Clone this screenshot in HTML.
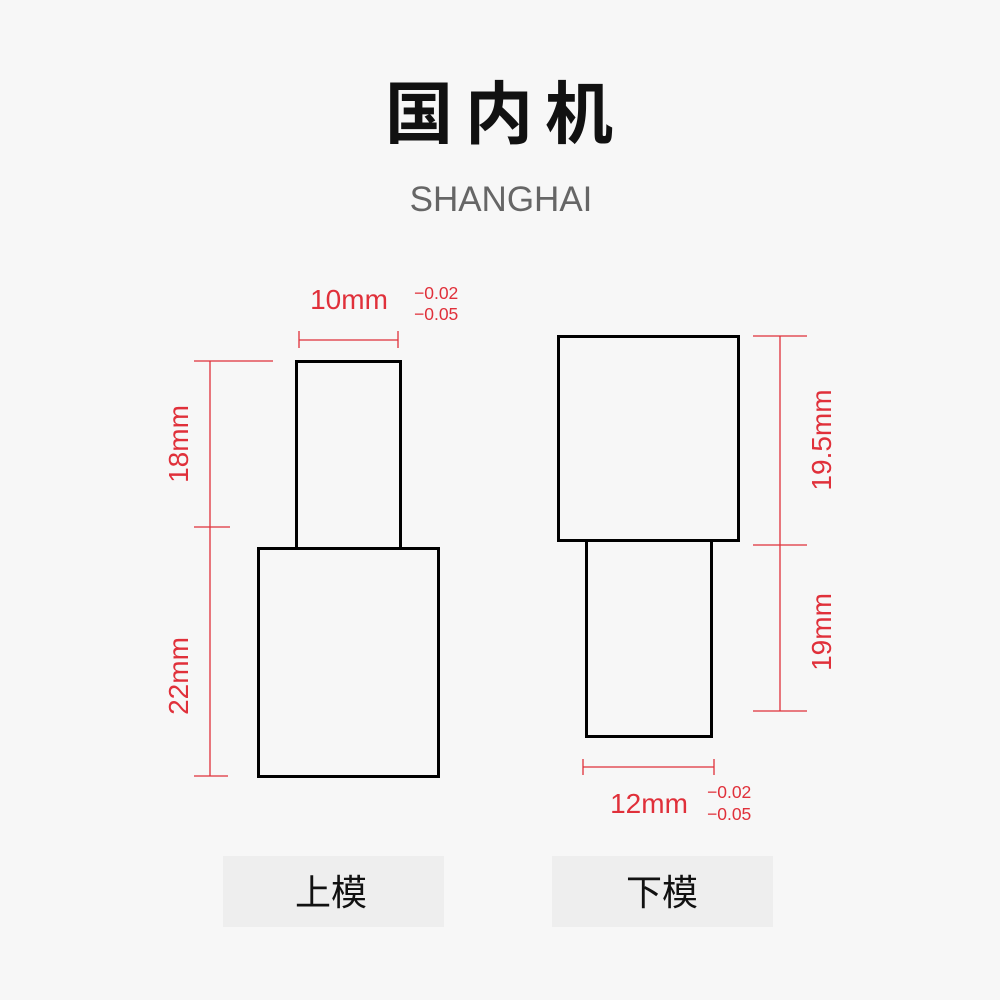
<!DOCTYPE html>
<html><head><meta charset="utf-8"><style>
html,body{margin:0;padding:0;background:#f7f7f7;}
svg{display:block}
</style></head><body>
<svg width="1000" height="1000" viewBox="0 0 1000 1000" xmlns="http://www.w3.org/2000/svg">
<rect width="1000" height="1000" fill="#f7f7f7"/>
<text x="505" y="138" text-anchor="middle" font-family="'Liberation Sans','Noto Sans CJK SC',sans-serif" font-size="68" font-weight="bold" letter-spacing="12" fill="#111">国内机</text>
<text x="501" y="211" text-anchor="middle" font-family="'Liberation Sans',sans-serif" font-size="35" fill="#666">SHANGHAI</text>
<g fill="none" stroke="#000" stroke-width="3">
<rect x="296.5" y="361.5" width="104" height="187"/>
<rect x="258.5" y="548.5" width="180" height="228"/>
<rect x="558.5" y="336.5" width="180" height="204"/>
<rect x="586.5" y="540.5" width="125" height="196"/>
</g>
<g stroke="#e0303a" stroke-width="1.3" fill="none">
<line x1="299" y1="340" x2="398" y2="340"/><line x1="299" y1="331" x2="299" y2="348"/><line x1="398" y1="331" x2="398" y2="348"/>
<line x1="210" y1="361" x2="210" y2="776"/><line x1="194" y1="361" x2="273" y2="361"/><line x1="194" y1="527" x2="230" y2="527"/><line x1="194" y1="776" x2="228" y2="776"/>
<line x1="780" y1="336" x2="780" y2="711"/><line x1="753" y1="336" x2="807" y2="336"/><line x1="753" y1="545" x2="807" y2="545"/><line x1="753" y1="711" x2="807" y2="711"/>
<line x1="583" y1="767" x2="714" y2="767"/><line x1="583" y1="759" x2="583" y2="775"/><line x1="714" y1="759" x2="714" y2="775"/>
</g>
<g fill="#e0303a" font-family="'Liberation Sans',sans-serif">
<text x="349" y="309" text-anchor="middle" font-size="28">10mm</text>
<text x="414" y="299" font-size="17.5">−0.02</text>
<text x="414" y="320" font-size="17.5">−0.05</text>
<text transform="translate(188,444) rotate(-90)" text-anchor="middle" font-size="28">18mm</text>
<text transform="translate(188,676) rotate(-90)" text-anchor="middle" font-size="28">22mm</text>
<text transform="translate(831,440) rotate(-90)" text-anchor="middle" font-size="28">19.5mm</text>
<text transform="translate(831,632) rotate(-90)" text-anchor="middle" font-size="28">19mm</text>
<text x="649" y="813" text-anchor="middle" font-size="28">12mm</text>
<text x="707" y="798" font-size="17.5">−0.02</text>
<text x="707" y="820" font-size="17.5">−0.05</text>
</g>
<rect x="223" y="856" width="221" height="71" fill="#eeeeee"/>
<rect x="552" y="856" width="221" height="71" fill="#eeeeee"/>
<g font-family="'Liberation Sans','Noto Sans CJK SC',sans-serif" font-size="36" fill="#111" text-anchor="middle">
<text x="331" y="905">上模</text>
<text x="662" y="905">下模</text>
</g>
</svg>
</body></html>
